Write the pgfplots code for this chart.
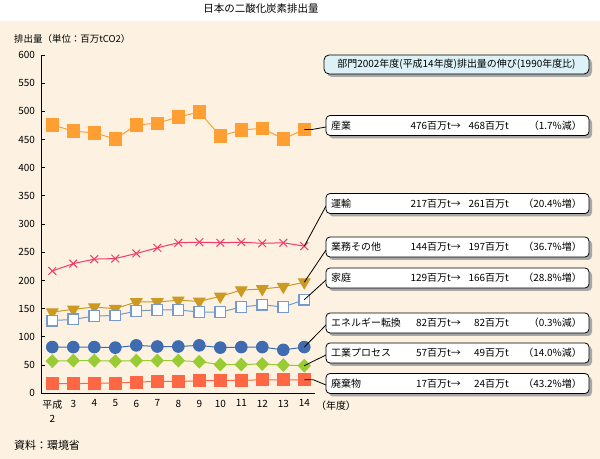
\documentclass[border=0pt]{standalone}
\usepackage{fontspec}
\setmainfont{Noto Sans CJK JP}
\usepackage{pgfplots}
\pgfplotsset{compat=1.18}

\definecolor{bgbeige}{HTML}{FDF2E1}
\definecolor{cSangyo}{HTML}{FF9F33}
\definecolor{cUnyu}{HTML}{F23A68}
\definecolor{cGyomu}{HTML}{CC9922}
\definecolor{cKatei}{HTML}{7799CC}
\definecolor{cEne}{HTML}{3F6CB0}
\definecolor{cKogyo}{HTML}{99CC33}
\definecolor{cHaiki}{HTML}{FF6644}
\definecolor{headfill}{HTML}{DDF2F7}
\definecolor{shadowgray}{HTML}{A8A8A8}

% one box = shadow + rounded frame
\newcommand{\labelbox}[5]{% ymid(px from top), label, from, to, change
  \fill[shadowgray,rounded corners=4bp] (329bp,{459bp-#1*1bp-13bp}) rectangle (592bp,{459bp-#1*1bp+7bp});
  \filldraw[fill=white,draw=black,line width=0.8bp,rounded corners=4bp] (326bp,{459bp-#1*1bp-10bp}) rectangle (589bp,{459bp-#1*1bp+10bp});
  \node[anchor=west,inner sep=0pt,font=\fontsize{10}{10}\selectfont] at (331bp,{459bp-#1*1bp}) {#2};
  \node[anchor=east,inner sep=0pt,font=\fontsize{10}{10}\selectfont] at (461bp,{459bp-#1*1bp}) {#3};
  \node[anchor=east,inner sep=0pt,font=\fontsize{10}{10}\selectfont] at (509bp,{459bp-#1*1bp}) {#4};
  \node[anchor=east,inner sep=0pt,font=\fontsize{10}{10}\selectfont] at (582bp,{459bp-#1*1bp}) {#5};
}

\begin{document}
\begin{tikzpicture}
\fill[white] (0,0) rectangle (600bp,459bp);
\fill[bgbeige] (0,0) rectangle (600bp,438bp);

\node[font=\fontsize{10.5}{10.5}\selectfont] at (261bp,450bp) {日本の二酸化炭素排出量};
\node[anchor=west,inner sep=0pt,font=\fontsize{9.5}{9.5}\selectfont] at (14bp,420.5bp) {排出量（単位：百万tCO2）};
\node[anchor=west,inner sep=0pt,font=\fontsize{11}{11}\selectfont] at (14bp,13.5bp) {資料：環境省};
\node[inner sep=0pt,font=\fontsize{10}{10}\selectfont] at (336bp,53bp) {（年度）};

\begin{axis}[
  at={(41bp,65.7bp)}, anchor=south west,
  scale only axis, width=274bp, height=338.3bp,
  xmin=1.462, xmax=14.51, ymin=0, ymax=600,
  axis lines=left,
  axis line style={-, line width=1bp, black},
  ytick={0,50,...,600},
  tick align=inside,
  major tick length=4bp,
  tick style={black, line width=1bp},
  xtick={2,...,14},
  xticklabels={{平成\\2},3,4,5,6,7,8,9,10,11,12,13,14},
  xtick style={draw=none},
  /pgf/number format/assume math mode=true,
  yticklabel style={font=\fontsize{10}{10}\selectfont, xshift=-2.5bp},
  xticklabel style={align=center, font=\fontsize{10}{14.7}\selectfont, yshift=-3bp},
  clip=false,
]
% 産業
\addplot[cSangyo, line width=1bp, mark=square*, mark size=6.2bp] coordinates {
  (2,476) (3,465) (4,462) (5,451) (6,476) (7,479) (8,490) (9,499) (10,456) (11,467) (12,470) (13,451) (14,468)};
% 運輸
\addplot[cUnyu, line width=1bp, mark=x, mark size=5.5bp] coordinates {
  (2,217) (3,230) (4,238) (5,239) (6,248) (7,258) (8,267) (9,268) (10,267) (11,268) (12,266) (13,267) (14,261)};
% 業務その他
\addplot[cGyomu, line width=1bp, mark=triangle*, mark size=6.5bp, mark options={rotate=180}] coordinates {
  (2,144) (3,149) (4,153) (5,150) (6,162) (7,162) (8,165) (9,163) (10,172) (11,183) (12,185) (13,189) (14,197)};
% 家庭
\addplot[cKatei, line width=1bp, mark=square*, mark size=5.3bp, mark options={fill=white, line width=1.3bp}] coordinates {
  (2,129) (3,131) (4,137) (5,138) (6,146) (7,148) (8,148) (9,144) (10,144) (11,153) (12,157) (13,153) (14,166)};
% エネルギー転換
\addplot[cEne, line width=1bp, mark=*, mark size=5.8bp] coordinates {
  (2,82) (3,82) (4,82) (5,81) (6,85) (7,83) (8,83) (9,85) (10,81) (11,82) (12,82) (13,77) (14,82)};
% 工業プロセス
\addplot[cKogyo, line width=1bp, mark=diamond*, mark size=6.2bp, mark options={xscale=1.3}] coordinates {
  (2,57) (3,58) (4,58) (5,57) (6,58) (7,58) (8,58) (9,56) (10,51) (11,51) (12,52) (13,50) (14,49)};
% 廃棄物
\addplot[cHaiki, line width=1bp, mark=square*, mark size=6bp] coordinates {
  (2,17) (3,17) (4,18) (5,18) (6,20) (7,21) (8,21) (9,22) (10,23) (11,23) (12,24) (13,24) (14,24)};

\coordinate (p1) at (axis cs:14,468);
\coordinate (p2) at (axis cs:14,261);
\coordinate (p3) at (axis cs:14,197);
\coordinate (p4) at (axis cs:14,166);
\coordinate (p5) at (axis cs:14,82);
\coordinate (p6) at (axis cs:14,49);
\coordinate (p7) at (axis cs:14,24);
\end{axis}

% leader lines
\draw[black, line width=0.8bp] (p1) -- ++(8bp,0) -- (326bp,{459bp-127bp});
\draw[black, line width=0.8bp] (p2) -- (326bp,{459bp-206bp});
\draw[black, line width=0.8bp] (p3) -- (326bp,{459bp-250bp});
\draw[black, line width=0.8bp] (p4) -- (326bp,{459bp-280bp});
\draw[black, line width=0.8bp] (p5) -- (326bp,{459bp-325bp});
\draw[black, line width=0.8bp] (p6) -- (326bp,{459bp-355bp});
\draw[black, line width=0.8bp] (p7) -- ++(9bp,0) -- (326bp,{459bp-385bp});

% header box
\fill[shadowgray,rounded corners=5bp] (327bp,{459bp-77bp}) rectangle (592bp,{459bp-58bp});
\filldraw[fill=headfill,draw=black,line width=0.8bp,rounded corners=5bp] (324bp,{459bp-74bp}) rectangle (589bp,{459bp-55bp});
\node[inner sep=0pt,font=\fontsize{10}{10}\selectfont] at (456.5bp,{459bp-64.5bp}) {部門2002年度(平成14年度)排出量の伸び(1990年度比)};

\labelbox{125.5}{産業}{476百万t→}{468百万t}{（1.7\%減）}
\labelbox{203.5}{運輸}{217百万t→}{261百万t}{（20.4\%増）}
\labelbox{247}{業務その他}{144百万t→}{197百万t}{（36.7\%増）}
\labelbox{278}{家庭}{129百万t→}{166百万t}{（28.8\%増）}
\labelbox{323}{エネルギー転換}{82百万t→}{82百万t}{（0.3\%減）}
\labelbox{353}{工業プロセス}{57百万t→}{49百万t}{（14.0\%減）}
\labelbox{383.5}{廃棄物}{17百万t→}{24百万t}{（43.2\%増）}

\pgfresetboundingbox
\useasboundingbox (0,0) rectangle (600bp,459bp);
\end{tikzpicture}
\end{document}
